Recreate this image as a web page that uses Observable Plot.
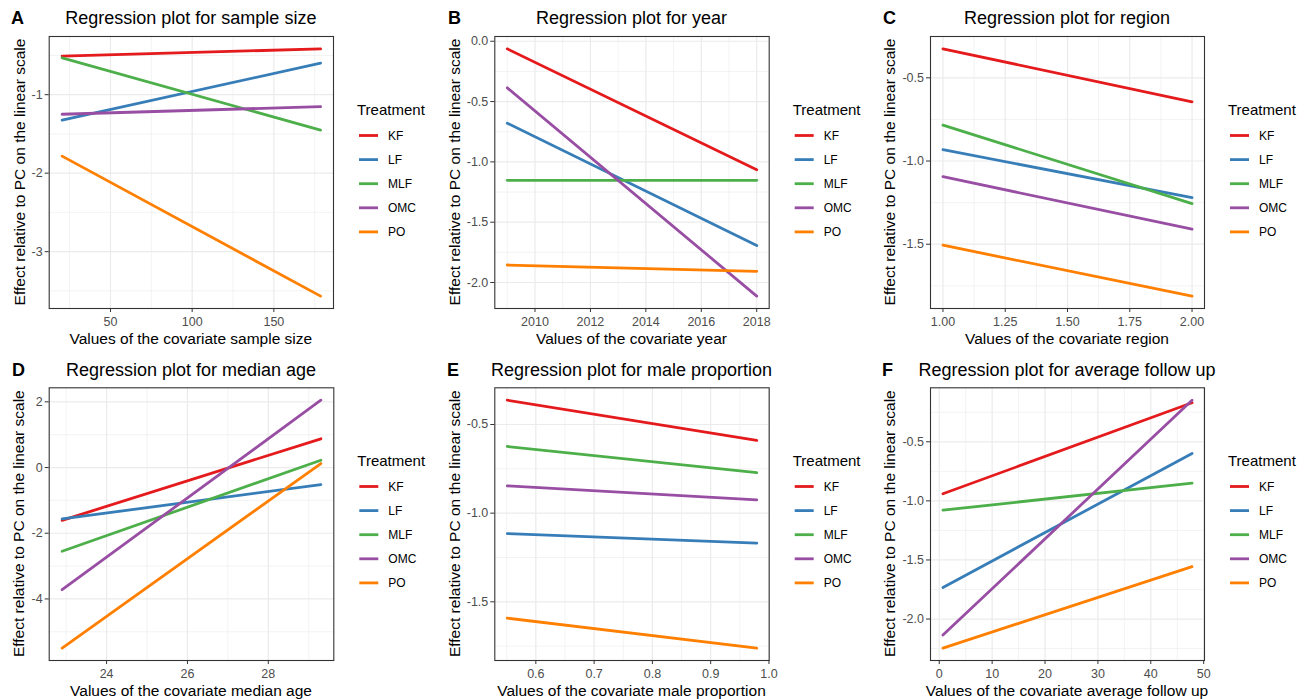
<!DOCTYPE html>
<html><head><meta charset="utf-8">
<script src="https://cdn.jsdelivr.net/npm/d3@7"></script>
<script src="https://cdn.jsdelivr.net/npm/@observablehq/plot@0.6"></script>
<style>
body{margin:0;background:#fff;}
#chart{position:relative;width:1311px;height:699px;font-family:"Liberation Sans",Arial,sans-serif;background:#fff;}
.panel{position:absolute;}
</style></head><body><div id="chart"></div>
<script>
const treatments = ["KF","LF","MLF","OMC","PO"];
const treatmentColors = ["#E41A1C","#377EB8","#4DAF4A","#984EA3","#FF7F00"];

// A: sample size
const sampleSizeX = [20.4, 178.6];
const sampleSizeStart = [-0.509, -1.325, -0.530, -1.249, -1.783];
const sampleSizeEnd = [-0.416, -0.598, -1.452, -1.152, -3.567];
const sampleSizeXTicks = [50, 100, 150];
const sampleSizeYTicks = [-3, -2, -1];

// B: year
const yearX = [2009, 2018];
const yearStart = [-0.063, -0.679, -1.153, -0.386, -1.855];
const yearEnd = [-1.065, -1.694, -1.153, -2.113, -1.907];
const yearXTicks = [2010, 2012, 2014, 2016, 2018];
const yearYTicks = [-2.0, -1.5, -1.0, -0.5, 0.0];

// C: region
const regionX = [1, 2];
const regionStart = [-0.326, -0.932, -0.784, -1.094, -1.506];
const regionEnd = [-0.644, -1.220, -1.256, -1.410, -1.812];
const regionXTicks = [1.00, 1.25, 1.50, 1.75, 2.00];
const regionYTicks = [-1.5, -1.0, -0.5];

// D: median age
const ageX = [22.9, 29.3];
const ageStart = [-1.607, -1.564, -2.550, -3.720, -5.497];
const ageEnd = [0.875, -0.518, 0.223, 2.050, 0.122];
const ageXTicks = [24, 26, 28];
const ageYTicks = [-4, -2, 0, 2];

// E: male proportion
const maleX = [0.551, 0.979];
const maleStart = [-0.363, -1.115, -0.624, -0.846, -1.592];
const maleEnd = [-0.590, -1.169, -0.772, -0.925, -1.761];
const maleXTicks = [0.6, 0.7, 0.8, 0.9, 1.0];
const maleYTicks = [-1.5, -1.0, -0.5];

// F: average follow up
const followX = [0.7, 47.8];
const followStart = [-0.940, -1.733, -1.079, -2.136, -2.246];
const followEnd = [-0.170, -0.599, -0.850, -0.148, -1.557];
const followXTicks = [0, 10, 20, 30, 40, 50];
const followYTicks = [-2.0, -1.5, -1.0, -0.5];

const yTitle = "Effect relative to PC on the linear scale";
const FONT = '"Liberation Sans", Arial, sans-serif';

const panels = [
  {letter:"A", title:"Regression plot for sample size", xLabel:"Values of the covariate sample size", x:sampleSizeX, start:sampleSizeStart, end:sampleSizeEnd, xTicks:sampleSizeXTicks, yTicks:sampleSizeYTicks, xDec:0, yDec:0, col:0, row:0, ml:48.7, mr:333, yt:19, lx:11},
  {letter:"B", title:"Regression plot for year", xLabel:"Values of the covariate year", x:yearX, start:yearStart, end:yearEnd, xTicks:yearXTicks, yTicks:yearYTicks, xDec:0, yDec:1, col:1, row:0, ml:57.3, mr:331.7, yt:17.5, lx:11},
  {letter:"C", title:"Regression plot for region", xLabel:"Values of the covariate region", x:regionX, start:regionStart, end:regionEnd, xTicks:regionXTicks, yTicks:regionYTicks, xDec:2, yDec:1, col:2, row:0, ml:56, mr:330, yt:15.5, lx:9},
  {letter:"D", title:"Regression plot for median age", xLabel:"Values of the covariate median age", x:ageX, start:ageStart, end:ageEnd, xTicks:ageXTicks, yTicks:ageYTicks, xDec:0, yDec:0, col:0, row:1, ml:48.7, mr:333.3, yt:18.8, lx:12},
  {letter:"E", title:"Regression plot for male proportion", xLabel:"Values of the covariate male proportion", x:maleX, start:maleStart, end:maleEnd, xTicks:maleXTicks, yTicks:maleYTicks, xDec:1, yDec:1, col:1, row:1, ml:57.3, mr:331.7, yt:17.5, lx:10},
  {letter:"F", title:"Regression plot for average follow up", xLabel:"Values of the covariate average follow up", x:followX, start:followStart, end:followEnd, xTicks:followXTicks, yTicks:followYTicks, xDec:0, yDec:1, col:2, row:1, ml:56, mr:330, yt:15.5, lx:8}
];

function expand(vals) {
  const lo = d3.min(vals), hi = d3.max(vals), e = (hi - lo) * 0.05;
  return [lo - e, hi + e];
}
function inside(v, d) { return v >= d[0] - 1e-9 && v <= d[1] + 1e-9; }
function minors(ticks, d) {
  const step = ticks[1] - ticks[0];
  const c = [ticks[0] - step / 2];
  for (let i = 0; i < ticks.length - 1; i++) c.push((ticks[i] + ticks[i + 1]) / 2);
  c.push(ticks[ticks.length - 1] + step / 2);
  return c.filter(v => inside(v, d));
}

const chart = document.getElementById("chart");

for (const p of panels) {
  const W = 437, H = p.row === 0 ? 350 : 349;
  const top = p.row === 0 ? 36 : 37.3, bottom = p.row === 0 ? 308 : 310;
  const rows = treatments.flatMap((t, i) => [
    {t, x: p.x[0], y: p.start[i]},
    {t, x: p.x[1], y: p.end[i]}
  ]);
  const xd = expand(p.x), yd = expand([...p.start, ...p.end]);
  const majX = p.xTicks.filter(v => inside(v, xd)), majY = p.yTicks.filter(v => inside(v, yd));
  const svg = Plot.plot({
    width: W, height: H,
    marginLeft: p.ml, marginRight: W - p.mr, marginTop: top, marginBottom: H - bottom,
    style: {fontFamily: FONT, fontSize: "12.5px", background: "white", overflow: "visible"},
    x: {domain: xd},
    y: {domain: yd},
    color: {domain: treatments, range: treatmentColors},
    marks: [
      Plot.ruleX(minors(p.xTicks, xd), {stroke: "#EBEBEB", strokeWidth: 0.6}),
      Plot.ruleY(minors(p.yTicks, yd), {stroke: "#EBEBEB", strokeWidth: 0.6}),
      Plot.ruleX(majX, {stroke: "#EBEBEB", strokeWidth: 1.2}),
      Plot.ruleY(majY, {stroke: "#EBEBEB", strokeWidth: 1.2}),
      Plot.line(rows, {x: "x", y: "y", z: "t", stroke: "t", strokeWidth: 2.8}),
      Plot.frame({stroke: "#333333", strokeWidth: 1.1}),
      Plot.axisX({ticks: majX, tickFormat: d => d.toFixed(p.xDec), tickSize: 4, tickPadding: 5, label: null, stroke: "#333333", fill: "#4D4D4D", fontSize: 12.5}),
      Plot.axisY({ticks: majY, tickFormat: d => d.toFixed(p.yDec), tickSize: 4, tickPadding: 2.5, label: null, stroke: "#333333", fill: "#4D4D4D", fontSize: 12.5})
    ]
  });
  const div = document.createElement("div");
  div.className = "panel";
  div.style.left = (p.col * 437) + "px";
  div.style.top = (p.row === 0 ? 0 : 350) + "px";
  div.appendChild(svg);
  chart.appendChild(div);

  const s = d3.select(svg);
  const cx = (p.ml + p.mr) / 2, cy = (top + bottom) / 2;
  const titleY = p.row === 0 ? 18 : 20;
  const txt = (x, y, str, size, anchor, weight) => s.append("text")
    .attr("x", x).attr("y", y).attr("text-anchor", anchor).attr("dominant-baseline", "central")
    .attr("font-family", FONT).attr("font-size", size).attr("font-weight", weight || "normal")
    .attr("fill", "#000").text(str);
  txt(p.lx, titleY, p.letter, 18, "start", "bold");
  txt(cx, titleY, p.title, 18, "middle");
  txt(cx, p.row === 0 ? 338 : 340, p.xLabel, 15.5, "middle");
  txt(0, 0, yTitle, 15.5, "middle").attr("x", null).attr("y", null)
    .attr("transform", `translate(${p.yt},${cy}) rotate(-90)`);

  // legend
  const lgX = p.mr + 24, lgY = p.row === 0 ? 109 : 110;
  txt(lgX, lgY, "Treatment", 15, "start");
  treatments.forEach((t, i) => {
    const ky = lgY + 26.5 + i * 24.1;
    s.append("line").attr("x1", lgX + 2).attr("x2", lgX + 21).attr("y1", ky).attr("y2", ky)
      .attr("stroke", treatmentColors[i]).attr("stroke-width", 2.8);
    txt(lgX + 31, ky, t, 12, "start");
  });
}
</script></body></html>
